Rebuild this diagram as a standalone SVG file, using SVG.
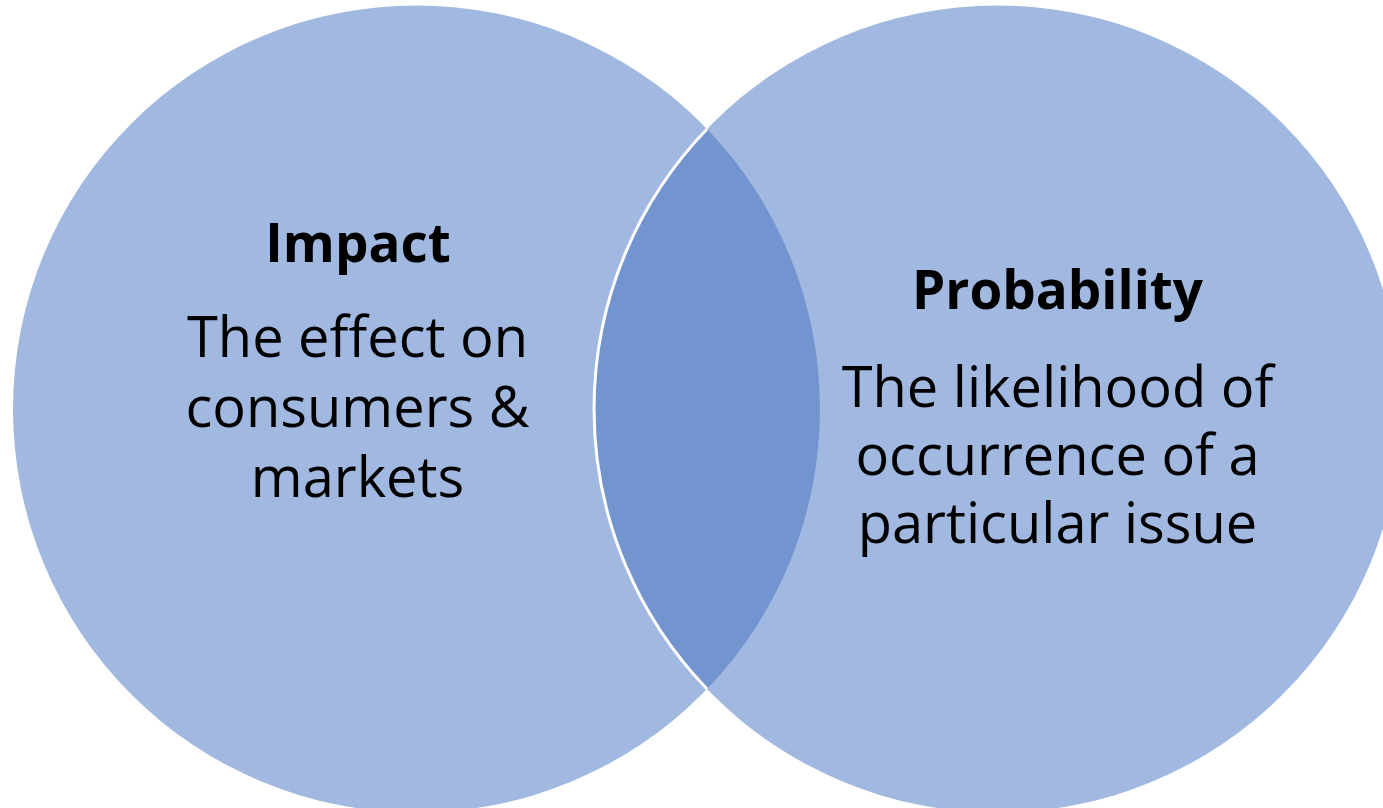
<svg xmlns="http://www.w3.org/2000/svg" width="1383" height="808" viewBox="0 0 1383 808">
<style>
.circle{fill:#A1B8E0;}
.lens{fill:#7395CF;}
.edge{fill:none;stroke:#FFFFFF;stroke-width:3;}
.title{font-family:"Open Sans","Liberation Sans",sans-serif;font-weight:bold;font-size:53px;fill:#000;text-anchor:middle;}
.body{font-family:"Open Sans","Liberation Sans",sans-serif;font-size:56px;fill:#000;text-anchor:middle;}
</style>
<rect width="1383" height="808" fill="#FFFFFF"/>
<g id="impact">
<circle class="circle" cx="416.5" cy="409" r="403.5"/>
</g>
<g id="probability">
<circle class="circle" cx="997.5" cy="409" r="403.5"/>
</g>
<g id="overlap">
<path class="lens" d="M707,129 A403.5,403.5 0 0 1 707,689 A403.5,403.5 0 0 1 707,129 Z"/>
</g>
<g id="connectors">
<path class="edge" d="M707,129 A403.5,403.5 0 0 0 707,689"/>
</g>
<g id="impact-text">
<text class="title" x="358" y="262">Impact</text>
<text class="body" x="357.5" y="357">The effect on</text>
<text class="body" x="357.5" y="427">consumers &amp;</text>
<text class="body" x="357.5" y="497">markets</text>
</g>
<g id="probability-text">
<text class="title" x="1057.5" y="309">Probability</text>
<text class="body" x="1057.5" y="407">The likelihood of</text>
<text class="body" x="1057.5" y="475">occurrence of a</text>
<text class="body" x="1057.5" y="543">particular issue</text>
</g>
</svg>
